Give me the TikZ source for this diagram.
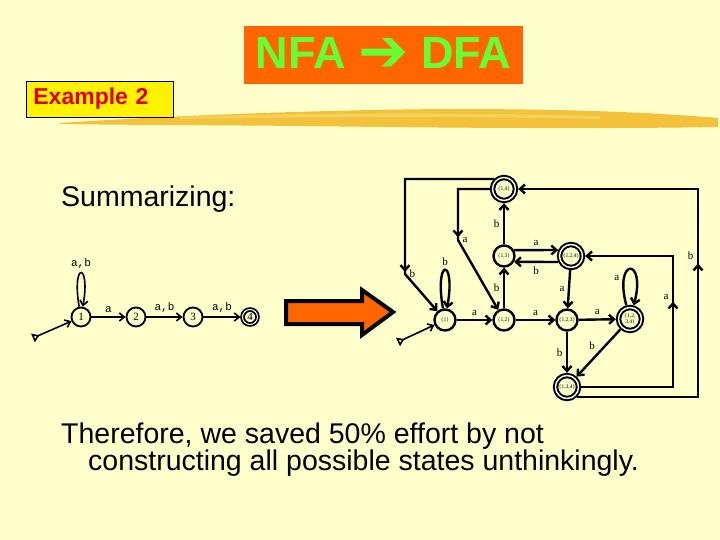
\documentclass[tikz,border=0pt]{standalone}
\usepackage{fontspec}
\usepackage{tikz}
\usetikzlibrary{arrows.meta,decorations.markings}
\setmainfont{Liberation Sans}
\newfontfamily\statefont{Liberation Serif}
\newfontfamily\labelfont{Liberation Mono}
\newfontfamily\arrowfont{DejaVu Sans}
\definecolor{slidebg}{HTML}{FFFFCC}
\definecolor{titleorange}{HTML}{FF6600}
\definecolor{titlegreen}{HTML}{66FF33}
\definecolor{exred}{HTML}{DD0000}
\definecolor{brushgold}{HTML}{F3C13A}
\definecolor{brushlight}{HTML}{F8D868}

\begin{document}
\begin{tikzpicture}[x=1pt, y=-1pt,
  nstate/.style={circle, draw, line width=1.8pt, minimum size=19pt, inner sep=0pt, font=\statefont\fontsize{11}{11}\selectfont},
  naccept/.style={nstate, double, double distance=1pt, minimum size=15pt, outer sep=2pt},
  dstate/.style={circle, draw, line width=2.4pt, minimum size=21pt, inner sep=0pt, align=center, font=\statefont\fontsize{5.5}{5.5}\selectfont},
  daccept/.style={dstate, line width=2pt, double, double distance=1.4pt, minimum size=23pt, outer sep=2.7pt},
  nedge/.style={-{Straight Barb[length=5pt,width=8pt]}, line width=1.6pt},
  dedge/.style={-{Straight Barb[length=5pt,width=9pt]}, line width=2.4pt},
  nlabel/.style={font=\labelfont\fontsize{11}{11}\selectfont},
  dlabel/.style={font=\statefont\fontsize{11}{11}\selectfont},
  startarrow/.style={{Triangle[open,reversed,length=7pt,width=9pt]}-{Straight Barb[length=5pt,width=8pt]}, line width=1.6pt},
  midarrow/.style={postaction={decorate, decoration={markings,
    mark=at position #1 with {\arrow{Straight Barb[length=5pt,width=9pt]}}}}}
]
  % Slide background
  \fill[slidebg] (0,0) rectangle (720,540);

  % Title and brush stroke
  \node[fill=titleorange, minimum width=279pt, minimum height=58pt, text=titlegreen,
    font=\fontsize{45}{45}\bfseries] (title) at (383.5,55)
    {NFA \raisebox{-3pt}{\arrowfont\fontsize{60}{60}\selectfont ➔} DFA};
  \fill[brushgold] (60,123) .. controls (150,117) and (300,110) .. (450,109)
    .. controls (580,109) and (660,113) .. (718,118) -- (718,127)
    .. controls (600,129) and (450,128) .. (300,126)
    .. controls (200,125) and (120,125) .. (60,124) -- cycle;
  \fill[brushlight, opacity=0.7] (180,117) .. controls (300,113) and (450,112) .. (600,116)
    -- (600,119) .. controls (450,116) and (300,117) .. (180,119) -- cycle;
  \node[draw=black, fill=yellow, line width=0.8pt, anchor=west, text width=133pt, inner xsep=7pt,
    minimum height=36pt, align=left, text=exred, font=\fontsize{23}{23}\bfseries] (example) at (26,99) {Example 2};

  % Text
  \node[anchor=base west, inner sep=0pt, font=\fontsize{28.5}{28.5}\selectfont] (summary) at (61,207) {Summarizing:};
  \node[anchor=base west, inner sep=0pt, align=left, font=\fontsize{28.5}{27}\selectfont] (concl) at (61,470)
    {Therefore, we saved 50\% effort by not\\\hspace*{27pt}constructing all possible states unthinkingly.};

  % NFA
  \node[nstate] (n1) at (81,317) {1};
  \node[nstate] (n2) at (136,317) {2};
  \node[nstate] (n3) at (193,317) {3};
  \node[naccept] (n4) at (250,317) {4};
  \coordinate (nstart) at (33,338);
  \draw[startarrow] (nstart) -- (n1);
  \draw[nedge] (n1) to[out=100, in=80, min distance=46pt] node[nlabel, above] {a,b} (n1);
  \draw[nedge] (n1) -- node[nlabel, above] {a} (n2);
  \draw[nedge] (n2) -- node[nlabel, above] {a,b} (n3);
  \draw[nedge] (n3) -- node[nlabel, above] {a,b} (n4);

  % Big arrow
  \filldraw[fill=titleorange, draw=black, line width=4pt, miter limit=3]
    (286,301) -- (362,301) -- (362,290) -- (393,312) -- (362,335) -- (362,324) -- (286,324) -- cycle;

  % DFA
  \node[dstate] (d1) at (445,320) {\{1\}};
  \node[dstate] (d12) at (504,320) {\{1,2\}};
  \node[dstate] (d13) at (504,256) {\{1,3\}};
  \node[daccept] (d14) at (504,189) {\{1,4\}};
  \node[daccept] (d124) at (571,256) {\{1,2,4\}};
  \node[dstate] (d123) at (567,320) {\{1,2,3\}};
  \node[daccept] (d1234) at (630,319) {\{1,2,\\3,4\}};
  \node[daccept] (d134) at (567,387) {\{1,3,4\}};
  \coordinate (dstart) at (398,342);
  \coordinate (colA) at (673,0);
  \coordinate (colB) at (698,0);
  \coordinate (bendA) at (458,240);
  \coordinate (bendB) at (405,274);

  \draw[startarrow] (dstart) -- (d1);
  \draw[dedge] (d1) to[out=100, in=80, min distance=52pt] node[dlabel, above] {b} (d1);
  \draw[dedge] (d1) -- node[dlabel, above] {a} (d12);
  \draw[dedge] (d12) -- node[dlabel, left] {b} (d13);
  \draw[dedge] (d13) -- node[dlabel, left] {b} (d14);
  \draw[dedge] (d13.30) -- node[dlabel, above] {a} (d124.155);
  \draw[dedge] (d124.-155) -- node[dlabel, below] {b} (d13.-30);
  \draw[dedge] (d12) -- node[dlabel, above] {a} (d123);
  \draw[dedge] (d124) -- node[dlabel, left] {a} (d123);
  \draw[dedge] (d123) -- node[dlabel, above] {a} (d1234);
  \draw[dedge] (d1234) to[out=105, in=75, min distance=50pt] node[dlabel, pos=0.25, left] {a} (d1234);
  \draw[dedge] (d123) -- node[dlabel, left] {b} (d134);
  \draw[dedge] (d1234) -- node[dlabel, above left=-1pt] {b} (d134);

  % Long returns
  \draw[dedge, midarrow=0.57] (d134.east) -- (d134.east -| colA)
    -- node[dlabel, left, pos=0.69] {a} (colA |- d124.east) -- (d124.east);
  \draw[dedge, midarrow=0.5] (d134.-45) -- (d134.-45 -| colB)
    -- node[dlabel, left, pos=0.68] {b} (colB |- d14.east) -- (d14.east);
  \draw[dedge, midarrow=0.49] (d14.west) -- (d14.west -| bendA) -- (bendA)
    node[dlabel, right] {a} -- (d12);
  \draw[dedge, midarrow=0.78] (d14.north west) -- (d14.north west -| bendB) -- (bendB)
    node[dlabel, right] {b} -- (d1);
\end{tikzpicture}
\end{document}
